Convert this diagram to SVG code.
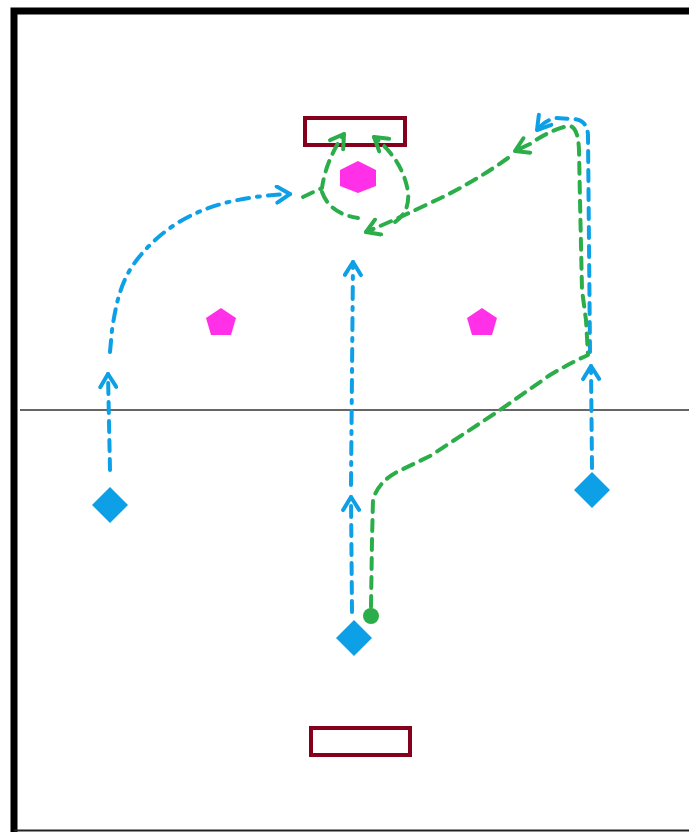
<svg xmlns="http://www.w3.org/2000/svg" width="689" height="832" viewBox="0 0 689 832">
<style>
.blue{fill:none;stroke:#0EA0E6;stroke-width:4;stroke-linecap:round;stroke-linejoin:round}
.green{fill:none;stroke:#2BAE4A;stroke-width:4;stroke-linecap:round;stroke-linejoin:round}
.dash{stroke-dasharray:11 8}
.dashdot{stroke-dasharray:12 8 3 8}
.goal{fill:#fff;stroke:#85001C;stroke-width:4}
.player{fill:#0EA0E6}
.cone{fill:#FF30E8}
</style>
<defs>
<marker id="ab" markerUnits="userSpaceOnUse" viewBox="-16 -10 20 20" refX="0" refY="0" markerWidth="20" markerHeight="20" orient="auto">
<path d="M-13,-8 L0,0 L-13,8" fill="none" stroke="#0EA0E6" stroke-width="4" stroke-linecap="round" stroke-linejoin="round" stroke-dasharray="none"/>
</marker>
<marker id="ag" markerUnits="userSpaceOnUse" viewBox="-16 -10 20 20" refX="0" refY="0" markerWidth="20" markerHeight="20" orient="auto">
<path d="M-13,-8 L0,0 L-13,8" fill="none" stroke="#2BAE4A" stroke-width="4" stroke-linecap="round" stroke-linejoin="round" stroke-dasharray="none"/>
</marker>
</defs>
<rect x="0" y="0" width="689" height="832" fill="#fff"/>
<g id="field">
<rect x="14" y="11" width="700" height="830" fill="none" stroke="#000" stroke-width="7"/>
<line x1="14" y1="830.5" x2="689" y2="830.5" stroke="#222" stroke-width="2"/>
<line x1="20" y1="410" x2="689" y2="410" stroke="#333" stroke-width="1.5"/>
</g>
<g id="goal-top"><rect class="goal" x="305" y="118" width="100" height="27"/></g>
<g id="goal-bottom"><rect class="goal" x="311" y="728" width="99" height="27"/></g>
<g id="connectors">
<path class="blue dash" d="M110,470 L108,374" marker-end="url(#ab)"/>
<path class="blue dashdot" d="M110,352 L112,330 C118,290 125,270 150,245 C180,215 220,197 290,194" marker-end="url(#ab)"/>
<path class="blue dash" d="M352,612 L351,497" marker-end="url(#ab)"/>
<path class="blue dashdot" d="M351,485 L353,262" marker-end="url(#ab)"/>
<path class="blue dash" d="M592,468 L591,366" marker-end="url(#ab)"/>
<path class="blue dash" d="M590,352 L588,135 Q587,119 572,119 L556,118 Q545,120 537,130" marker-end="url(#ab)"/>
<path class="green dash" d="M371,607 L372,540 L373,500 Q378,482 397,472 L430,456 Q470,430 500,410 L550,375 Q570,363 588,355 L586,320 L582,290 L580,200 L579,150 Q578,125 568,126 Q550,130 530,144 L515,151" marker-end="url(#ag)"/>
<path class="green dash" d="M508,158 Q470,185 430,203 Q395,220 366,232" marker-end="url(#ag)"/>
<path class="green dash" d="M303,197 L322,188 Q326,160 344,134" marker-end="url(#ag)"/>
<path class="green dash" d="M322,192 Q330,214 358,218"/>
<path class="green dash" d="M395,222 Q410,212 408,192 Q403,160 374,137" marker-end="url(#ag)"/>
</g>
<g id="cone-hex"><polygon class="cone" points="358,161 376,170 376,186 358,193 340,186 340,170"/></g>
<g id="cone-left"><polygon class="cone" points="221,308 236,318 231,335 211,335 206,318"/></g>
<g id="cone-right"><polygon class="cone" points="482,308 497,318 492,335 472,335 467,318"/></g>
<g id="player-left"><polygon class="player" points="110,487 128,505 110,523 92,505"/></g>
<g id="player-right"><polygon class="player" points="592,472 610,490 592,508 574,490"/></g>
<g id="player-mid"><polygon class="player" points="354,620 372,638 354,656 336,638"/></g>
<g id="ball"><circle cx="371" cy="616" r="8" fill="#2BAE4A"/></g>
</svg>
